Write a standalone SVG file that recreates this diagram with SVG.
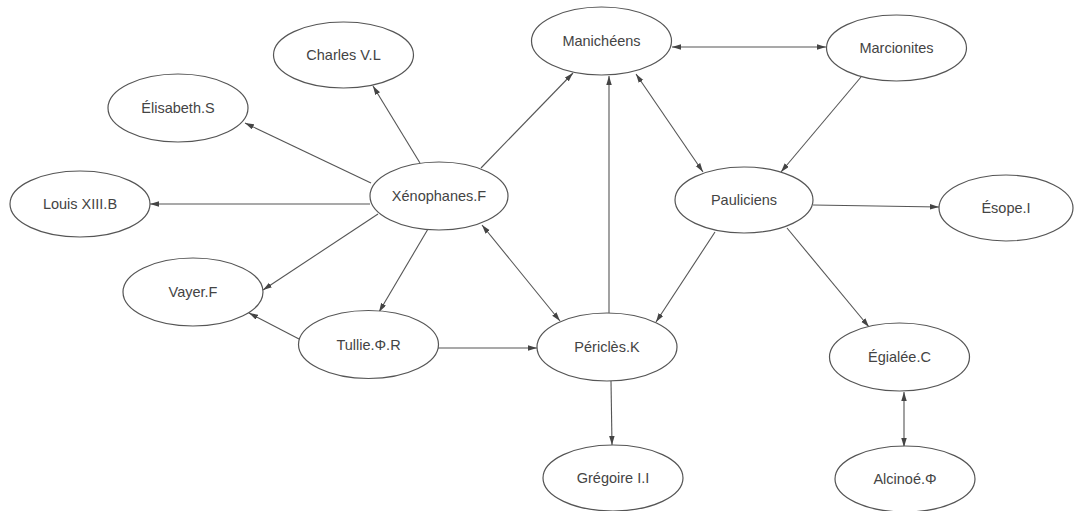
<svg xmlns="http://www.w3.org/2000/svg" width="1074" height="511" viewBox="0 0 1074 511">
<style>
.n ellipse{fill:#fff;stroke:#555;stroke-width:1.2}
.n text{font-family:"Liberation Sans",Arial,sans-serif;font-size:14.5px;fill:#444;text-anchor:middle;dominant-baseline:central}
.e line{stroke:#555;stroke-width:1.1;fill:none}
.a{marker-end:url(#ah)}
.b{marker-end:url(#ah);marker-start:url(#ah)}
</style>
<defs>
<marker id="ah" markerUnits="userSpaceOnUse" markerWidth="10" markerHeight="6" refX="9" refY="2.75" orient="auto-start-reverse">
<path d="M0,0 L9,2.75 L0,5.5 z" fill="#444"/>
</marker>
</defs>
<rect width="1074" height="511" fill="#fff"/>
<g id="connectors" class="e">
<line class="a" x1="420" y1="163" x2="373" y2="86"/>
<line class="a" x1="371" y1="183" x2="245" y2="123"/>
<line class="a" x1="370" y1="204" x2="150" y2="204"/>
<line class="a" x1="378" y1="214" x2="263" y2="290"/>
<line class="a" x1="428" y1="229" x2="379" y2="312"/>
<line class="a" x1="481" y1="168" x2="573" y2="73"/>
<line class="b" x1="482" y1="225" x2="560" y2="321"/>
<line class="a" x1="609" y1="313" x2="609" y2="76"/>
<line class="b" x1="636" y1="74" x2="703" y2="172"/>
<line class="b" x1="672" y1="47" x2="826" y2="47"/>
<line class="a" x1="861" y1="77" x2="781" y2="172"/>
<line class="a" x1="813" y1="205" x2="939" y2="207"/>
<line class="a" x1="787" y1="228" x2="869" y2="327"/>
<line class="a" x1="715" y1="232" x2="656" y2="322"/>
<line class="a" x1="299" y1="339" x2="249" y2="313"/>
<line class="a" x1="438" y1="348" x2="537" y2="348"/>
<line class="a" x1="611" y1="381" x2="612" y2="445"/>
<line class="b" x1="904" y1="392" x2="904" y2="447"/>
</g>
<g id="charles" class="n"><ellipse cx="343.5" cy="55" rx="70" ry="33"/><text x="343.5" y="55">Charles V.L</text></g>
<g id="elisabeth" class="n"><ellipse cx="178" cy="108" rx="70" ry="34"/><text x="178" y="108">Élisabeth.S</text></g>
<g id="louis" class="n"><ellipse cx="80" cy="204" rx="70" ry="33"/><text x="80" y="204">Louis XIII.B</text></g>
<g id="manicheens" class="n"><ellipse cx="601.5" cy="41" rx="70" ry="34"/><text x="601.5" y="41">Manichéens</text></g>
<g id="xenophanes" class="n"><ellipse cx="439" cy="196" rx="69" ry="34"/><text x="439" y="196">Xénophanes.F</text></g>
<g id="marcionites" class="n"><ellipse cx="896.5" cy="48" rx="70" ry="33"/><text x="896.5" y="48">Marcionites</text></g>
<g id="pauliciens" class="n"><ellipse cx="744" cy="200" rx="69" ry="33"/><text x="744" y="200">Pauliciens</text></g>
<g id="esope" class="n"><ellipse cx="1006" cy="208" rx="67" ry="33"/><text x="1006" y="208">Ésope.I</text></g>
<g id="vayer" class="n"><ellipse cx="193" cy="292" rx="70" ry="34"/><text x="193" y="292">Vayer.F</text></g>
<g id="tullie" class="n"><ellipse cx="368.5" cy="344.5" rx="70" ry="34"/><text x="368.5" y="344.5">Tullie.Φ.R</text></g>
<g id="pericles" class="n"><ellipse cx="607" cy="347" rx="70" ry="34"/><text x="607" y="347">Périclès.K</text></g>
<g id="gregoire" class="n"><ellipse cx="613" cy="478" rx="70" ry="33"/><text x="613" y="478">Grégoire I.I</text></g>
<g id="egialee" class="n"><ellipse cx="899.5" cy="357" rx="70" ry="34"/><text x="899.5" y="357">Égialée.C</text></g>
<g id="alcinoe" class="n"><ellipse cx="905" cy="479" rx="70" ry="33"/><text x="905" y="479">Alcinoé.Φ</text></g>
</svg>
